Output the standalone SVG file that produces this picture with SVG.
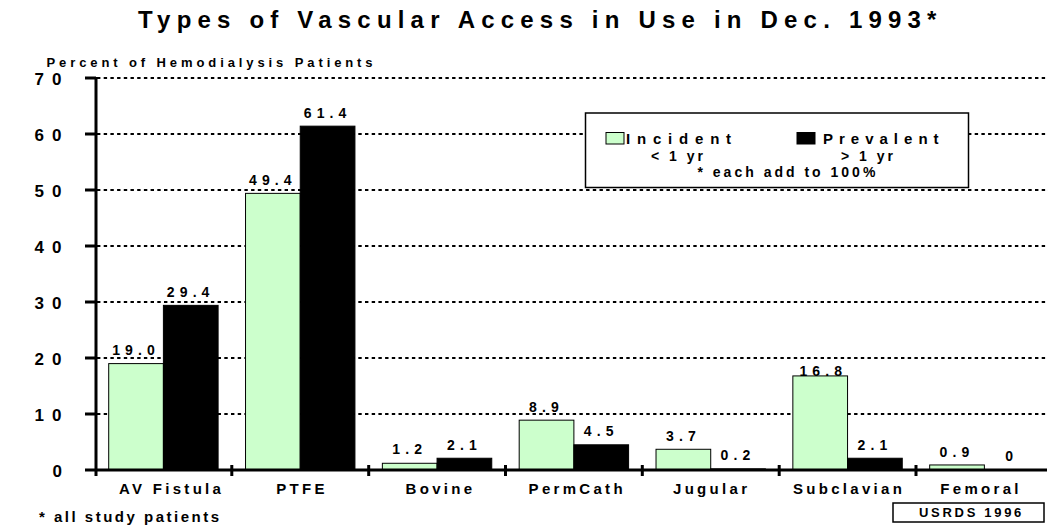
<svg xmlns="http://www.w3.org/2000/svg" width="1047" height="527" viewBox="0 0 1047 527">
<style>
text{font-family:"Liberation Sans",Arial,sans-serif;font-weight:bold;fill:#000}
.title{font-size:24px;letter-spacing:6.2px}
.ytitle{font-size:13px;letter-spacing:3.9px}
.ynum{font-size:17px;letter-spacing:8px}
.val{font-size:14px;letter-spacing:5.1px;text-anchor:middle}
.cat{font-size:15px;letter-spacing:3.3px}
.leg{font-size:15px;letter-spacing:6.8px}
.legs{font-size:14px;letter-spacing:3px}
.foot{font-size:15px;letter-spacing:2.5px}
.src{font-size:13px;letter-spacing:2.7px}
.grid{stroke:#000;stroke-width:2;stroke-dasharray:3.4 3.3;fill:none}
.axis{stroke:#000;stroke-width:3;fill:none}
.inc{fill:#CCFFCC;stroke:#000;stroke-width:1}
.prev{fill:#000;stroke:#000;stroke-width:1}
</style>
<rect width="1047" height="527" fill="#fff"/>
<text id="title" class="title" x="138" y="28">Types of Vascular Access in Use in Dec. 1993*</text>
<text id="ytitle" class="ytitle" x="46.5" y="66.5">Percent of Hemodialysis Patients</text>
<g id="gridlines">
<line class="grid" x1="97" y1="78" x2="1047" y2="78"/>
<line class="grid" x1="97" y1="134" x2="1047" y2="134"/>
<line class="grid" x1="97" y1="190" x2="1047" y2="190"/>
<line class="grid" x1="97" y1="246" x2="1047" y2="246"/>
<line class="grid" x1="97" y1="302" x2="1047" y2="302"/>
<line class="grid" x1="97" y1="358" x2="1047" y2="358"/>
<line class="grid" x1="97" y1="414" x2="1047" y2="414"/>
</g>
<g id="yaxis-labels">
<text class="ynum" x="34.5" y="85">70</text>
<text class="ynum" x="34.5" y="141">60</text>
<text class="ynum" x="34.5" y="197">50</text>
<text class="ynum" x="34.5" y="253">40</text>
<text class="ynum" x="34.5" y="309">30</text>
<text class="ynum" x="34.5" y="365">20</text>
<text class="ynum" x="34.5" y="421">10</text>
<text class="ynum" x="52.5" y="477">0</text>
</g>
<g id="legend">
<rect x="585.5" y="113" width="383" height="74.5" fill="#fff" stroke="#000" stroke-width="1.5"/>
<rect class="inc" x="606" y="132.5" width="18" height="11.5"/>
<text class="leg" x="626" y="144">Incident</text>
<rect class="prev" x="797" y="132.5" width="18" height="11.5"/>
<text class="leg" x="823" y="144" style="letter-spacing:6px">Prevalent</text>
<text class="legs" x="651" y="161">&lt; 1 yr</text>
<text class="legs" x="841" y="161">&gt; 1 yr</text>
<text class="legs" x="697.5" y="176.5">* each add to 100%</text>
</g>
<g id="bars">
<rect class="inc" x="108.7" y="363.6" width="54.7" height="106.4"/>
<rect class="prev" x="163.4" y="305.36" width="54.7" height="164.64"/>
<rect class="inc" x="245.53" y="193.36" width="54.7" height="276.64"/>
<rect class="prev" x="300.23" y="126.16" width="54.7" height="343.84"/>
<rect class="inc" x="382.36" y="463.28" width="54.7" height="6.72"/>
<rect class="prev" x="437.06" y="458.24" width="54.7" height="11.76"/>
<rect class="inc" x="519.19" y="420.16" width="54.7" height="49.84"/>
<rect class="prev" x="573.89" y="444.8" width="54.7" height="25.2"/>
<rect class="inc" x="656.02" y="449.28" width="54.7" height="20.72"/>
<rect class="prev" x="710.72" y="468.88" width="54.7" height="1.12"/>
<rect class="inc" x="792.85" y="375.92" width="54.7" height="94.08"/>
<rect class="prev" x="847.55" y="458.24" width="54.7" height="11.76"/>
<rect class="inc" x="929.68" y="464.96" width="54.7" height="5.04"/>
</g>
<g id="value-labels">
<text class="val" x="136" y="355">19.0</text>
<text class="val" x="190.7" y="297">29.4</text>
<text class="val" x="272.9" y="185">49.4</text>
<text class="val" x="327.6" y="117.7">61.4</text>
<text class="val" x="409.7" y="454">1.2</text>
<text class="val" x="464.4" y="449.5">2.1</text>
<text class="val" x="546.5" y="411.7">8.9</text>
<text class="val" x="601.2" y="435.7">4.5</text>
<text class="val" x="683.4" y="440.7">3.7</text>
<text class="val" x="738" y="460">0.2</text>
<text class="val" x="823.3" y="375.5">16.8</text>
<text class="val" x="874.9" y="450">2.1</text>
<text class="val" x="957" y="457.3">0.9</text>
<text class="val" x="1011.7" y="460.7">0</text>
</g>
<g id="axes">
<line class="axis" x1="96" y1="77" x2="96" y2="476" stroke-width="3.5"/>
<line class="axis" x1="85" y1="470" x2="1047" y2="470"/>
<line class="axis" x1="85" y1="78" x2="96" y2="78"/>
<line class="axis" x1="85" y1="134" x2="96" y2="134"/>
<line class="axis" x1="85" y1="190" x2="96" y2="190"/>
<line class="axis" x1="85" y1="246" x2="96" y2="246"/>
<line class="axis" x1="85" y1="302" x2="96" y2="302"/>
<line class="axis" x1="85" y1="358" x2="96" y2="358"/>
<line class="axis" x1="85" y1="414" x2="96" y2="414"/>
<line class="axis" x1="231.8" y1="465" x2="231.8" y2="476"/>
<line class="axis" x1="368.7" y1="465" x2="368.7" y2="476"/>
<line class="axis" x1="505.5" y1="465" x2="505.5" y2="476"/>
<line class="axis" x1="642.3" y1="465" x2="642.3" y2="476"/>
<line class="axis" x1="779.2" y1="465" x2="779.2" y2="476"/>
<line class="axis" x1="916" y1="465" x2="916" y2="476"/>
</g>
<g id="category-labels">
<text class="cat" x="119" y="494">AV Fistula</text>
<text class="cat" x="276.3" y="494">PTFE</text>
<text class="cat" x="405.6" y="494">Bovine</text>
<text class="cat" x="528.6" y="494">PermCath</text>
<text class="cat" x="673" y="494">Jugular</text>
<text class="cat" x="793" y="494">Subclavian</text>
<text class="cat" x="940.3" y="494">Femoral</text>
</g>
<text id="footnote" class="foot" x="39" y="521.5">* all study patients</text>
<g id="source">
<rect x="893" y="503" width="151" height="19" fill="#fff" stroke="#000" stroke-width="1.5"/>
<text class="src" x="919" y="516.5">USRDS 1996</text>
</g>
</svg>
